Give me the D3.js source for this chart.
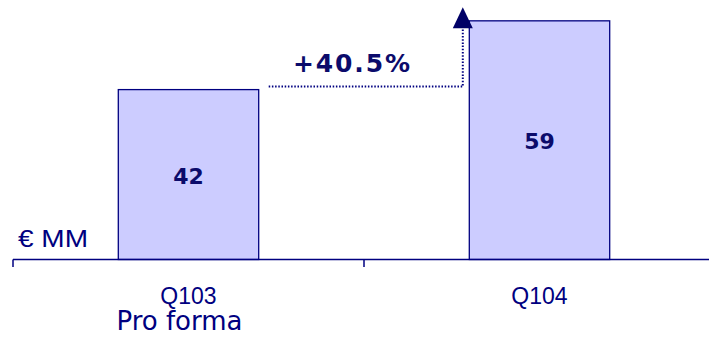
<!DOCTYPE html>
<html>
<head>
<meta charset="utf-8">
<script src="https://cdn.jsdelivr.net/npm/d3@7"></script>
<style>
  body { margin: 0; background: #fff; }
  svg { display: block; }
</style>
</head>
<body>
<svg id="chart"></svg>
<script>
// data
const categories = ["Q103", "Q104"];
const values = [42, 59];
const subLabels = ["Pro forma", ""];
const growthLabel = "+40.5%";
const unitLabel = "€ MM";

const width = 709;
const height = 337;
const navy = "#000080";
const textNavy = "#0b0b6b";

const svg = d3.select("#chart")
  .attr("width", width)
  .attr("height", height);

const baseY = 259.5;

const x = d3.scaleBand()
  .domain(categories)
  .range([13, 715])
  .paddingInner(0.6)
  .paddingOuter(0.3);

const y = d3.scaleLinear()
  .domain([0, 64.15])
  .range([baseY, 0]);

// bars
svg.selectAll("rect.bar")
  .data(values)
  .enter()
  .append("rect")
  .attr("class", "bar")
  .attr("x", (d, i) => x(categories[i]))
  .attr("y", d => y(d))
  .attr("width", x.bandwidth())
  .attr("height", d => baseY - y(d))
  .attr("fill", "#ccccff")
  .attr("stroke", navy)
  .attr("stroke-width", 1.3);

// value labels in the middle of each bar
svg.selectAll("text.val")
  .data(values)
  .enter()
  .append("text")
  .attr("class", "val")
  .attr("x", (d, i) => x(categories[i]) + x.bandwidth() / 2)
  .attr("y", d => (y(d) + baseY) / 2 + 9)
  .attr("text-anchor", "middle")
  .attr("font-family", "DejaVu Sans")
  .attr("font-weight", "bold")
  .attr("font-size", 22)
  .attr("fill", textNavy)
  .text(d => d);

// axis line + ticks at band boundaries
const gap = (x.step() - x.bandwidth()) / 2;
svg.append("line")
  .attr("x1", x(categories[0]) - gap)
  .attr("x2", width)
  .attr("y1", baseY)
  .attr("y2", baseY)
  .attr("stroke", navy)
  .attr("stroke-width", 1.5);

svg.selectAll("line.tick")
  .data(categories)
  .enter()
  .append("line")
  .attr("class", "tick")
  .attr("x1", d => x(d) - gap)
  .attr("x2", d => x(d) - gap)
  .attr("y1", baseY)
  .attr("y2", baseY + 7.5)
  .attr("stroke", navy)
  .attr("stroke-width", 1.5);

// category labels
svg.selectAll("text.cat")
  .data(categories)
  .enter()
  .append("text")
  .attr("class", "cat")
  .attr("x", d => x(d) + x.bandwidth() / 2)
  .attr("y", 303.5)
  .attr("text-anchor", "middle")
  .attr("font-family", "Liberation Sans, Arial")
  .attr("font-size", 23)
  .attr("fill", navy)
  .text(d => d);

svg.selectAll("text.sub")
  .data(subLabels)
  .enter()
  .append("text")
  .attr("class", "sub")
  .attr("x", (d, i) => x(categories[i]) + x.bandwidth() / 2 - 9)
  .attr("y", 329.5)
  .attr("text-anchor", "middle")
  .attr("font-family", "DejaVu Sans, Verdana")
  .attr("font-size", 26)
  .attr("fill", navy)
  .text(d => d);

// unit label
svg.append("text")
  .attr("x", 18)
  .attr("y", 247)
  .attr("font-family", "Liberation Sans, Arial")
  .attr("font-size", 24)
  .attr("textLength", 70)
  .attr("lengthAdjust", "spacingAndGlyphs")
  .attr("fill", navy)
  .text(unitLabel);

// growth connector (dotted elbow with arrow head)
const lineY = y(values[0]) - 3;
const lineX0 = x(categories[0]) + x.bandwidth() + 10;
const lineX1 = x(categories[1]) - 6.5;
const tipY = y(values[1]) - 13.5;

svg.append("path")
  .attr("d", `M${lineX0},${lineY} H${lineX1} V${tipY + 20}`)
  .attr("fill", "none")
  .attr("stroke", navy)
  .attr("stroke-width", 2)
  .attr("stroke-dasharray", "1.5,1.7");

svg.append("path")
  .attr("d", `M${lineX1},${tipY} L${lineX1 + 10},${tipY + 21} L${lineX1 - 10},${tipY + 21} Z`)
  .attr("fill", "#000066");

svg.append("text")
  .attr("x", 293)
  .attr("y", 71.7)
  .attr("font-family", "DejaVu Sans, Verdana")
  .attr("font-weight", "bold")
  .attr("font-size", 25)
  .attr("textLength", 117)
  .attr("lengthAdjust", "spacing")
  .attr("fill", textNavy)
  .text(growthLabel);
</script>
</body>
</html>
